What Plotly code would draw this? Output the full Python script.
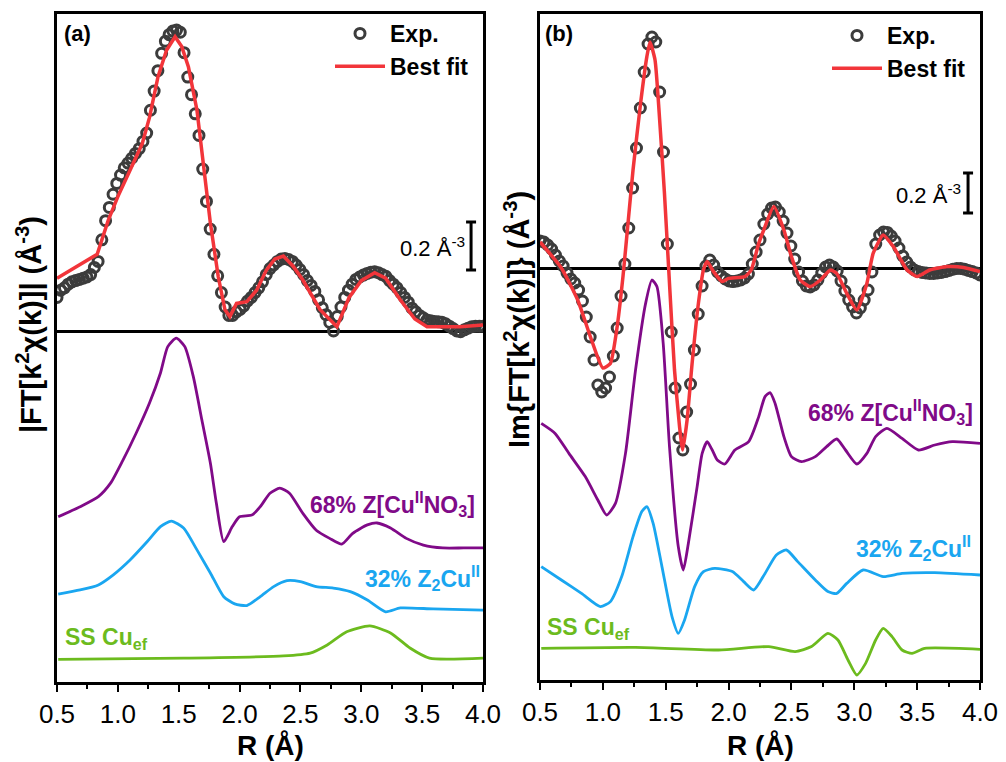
import plotly.graph_objects as go

# ---------------- data ----------------
R_exp = [round(0.5 + 0.0307 * i, 4) for i in range(115)]

exp_a = [0.14, 0.17, 0.18, 0.195, 0.205, 0.21, 0.215, 0.22, 0.225, 0.235,
         0.265, 0.29, 0.38, 0.46, 0.515, 0.57, 0.615, 0.65, 0.68, 0.70,
         0.72, 0.74, 0.76, 0.79, 0.825, 0.92, 1.00, 1.085, 1.157, 1.207,
         1.235, 1.25, 1.254, 1.245, 1.16, 1.058, 0.985, 0.905, 0.815, 0.675,
         0.54, 0.425, 0.32, 0.23, 0.16, 0.10, 0.065, 0.065, 0.08, 0.09,
         0.105, 0.125, 0.14, 0.16, 0.18, 0.205, 0.235, 0.26, 0.275, 0.29,
         0.30, 0.302, 0.298, 0.29, 0.275, 0.256, 0.235, 0.21, 0.19, 0.165,
         0.13, 0.097, 0.068, 0.036, 0.0, 0.06, 0.10, 0.14, 0.17, 0.195,
         0.215, 0.225, 0.233, 0.24, 0.245, 0.247, 0.243, 0.235, 0.228, 0.21,
         0.195, 0.18, 0.16, 0.14, 0.12, 0.095, 0.08, 0.065, 0.055, 0.046,
         0.043, 0.04, 0.039, 0.037, 0.03, 0.02, 0.01, 0.0, -0.003, 0.005,
         0.012, 0.018, 0.02, 0.02, 0.02]

exp_b = [0.135, 0.13, 0.115, 0.095, 0.065, 0.035, 0.01, -0.025, -0.055, -0.075,
         -0.11, -0.165, -0.245, -0.345, -0.46, -0.585, -0.62, -0.60, -0.545, -0.44,
         -0.30, -0.14, 0.02, 0.20, 0.40, 0.60, 0.80, 0.98, 1.12, 1.155,
         1.13, 0.88, 0.58, 0.12, -0.32, -0.60, -0.85, -0.91, -0.72, -0.58,
         -0.41, -0.23, -0.09, 0.01, 0.04, 0.015, -0.02, -0.04, -0.055, -0.065,
         -0.068, -0.065, -0.06, -0.05, -0.03, 0.02, 0.08, 0.14, 0.22, 0.27,
         0.30, 0.305, 0.28, 0.235, 0.175, 0.11, 0.045, -0.02, -0.065, -0.09,
         -0.095, -0.085, -0.06, -0.025, 0.005, 0.015, 0.005, -0.015, -0.065, -0.115,
         -0.16, -0.195, -0.225, -0.20, -0.16, -0.11, -0.02, 0.12, 0.165, 0.18,
         0.178, 0.16, 0.135, 0.10, 0.06, 0.03, 0.005, -0.01, -0.018, -0.022,
         -0.025, -0.027, -0.027, -0.025, -0.022, -0.018, -0.012, -0.006, -0.002, -0.002,
         -0.006, -0.012, -0.018, -0.025, -0.035]

# best fits
R_fit_a = [0.50, 0.83, 0.92, 1.00, 1.10, 1.20, 1.26, 1.33, 1.40, 1.47, 1.525, 1.58,
           1.65, 1.70, 1.76, 1.825, 1.88, 1.92, 1.975, 2.06, 2.14, 2.22, 2.29, 2.36,
           2.44, 2.52, 2.66, 2.80, 2.90, 3.00, 3.11, 3.20, 3.32, 3.44, 3.54, 3.81, 4.00]
fit_a = [0.22, 0.32, 0.46, 0.56, 0.67, 0.78, 0.89, 1.06, 1.17, 1.226, 1.185, 1.10,
         0.92, 0.70, 0.45, 0.226, 0.088, 0.06, 0.115, 0.122, 0.17, 0.254, 0.30, 0.3125,
         0.27, 0.2125, 0.09, 0.018, 0.14, 0.21, 0.243, 0.22, 0.13, 0.05, 0.018, 0.018, 0.025]

R_fit_b = [0.50, 0.67, 0.80, 0.91, 1.00, 1.06, 1.11, 1.16, 1.20, 1.24, 1.30, 1.35, 1.375,
           1.415, 1.45, 1.49, 1.53, 1.57, 1.61, 1.635, 1.67, 1.71, 1.76, 1.80, 1.83,
           1.88, 1.95, 2.00, 2.13, 2.18, 2.24, 2.28, 2.36, 2.44, 2.50, 2.57, 2.65, 2.73,
           2.81, 2.86, 2.94, 3.02, 3.10, 3.15, 3.23, 3.31, 3.42, 3.50, 3.60, 3.74, 3.87, 4.00]
fit_b = [0.13, 0.0, -0.16, -0.36, -0.50, -0.477, -0.31, -0.043, 0.223, 0.49, 0.823, 1.057, 1.13,
         1.04, 0.757, 0.373, -0.077, -0.51, -0.793, -0.91, -0.76, -0.477, -0.177, -0.01, 0.032,
         -0.018, -0.068, -0.052, -0.043, -0.01, 0.123, 0.19, 0.307, 0.19, 0.057, -0.06, -0.093, -0.06,
         -0.01, -0.027, -0.127, -0.21, -0.077, 0.073, 0.165, 0.107, -0.01, -0.043, -0.01, 0.007, 0.003, -0.018]

# components, panel (a) (offset for display)
R_no3_a = [0.51, 0.69, 0.84, 0.94, 1.04, 1.15, 1.26, 1.35, 1.41, 1.48, 1.55, 1.62, 1.69, 1.76,
           1.81, 1.87, 1.94, 2.00, 2.10, 2.17, 2.25, 2.33, 2.41, 2.52, 2.63, 2.74, 2.84, 2.93,
           3.05, 3.13, 3.24, 3.37, 3.51, 3.67, 3.84, 4.00]
no3_a = [-0.774, -0.732, -0.69, -0.634, -0.54, -0.426, -0.30, -0.175, -0.065, -0.03, -0.065, -0.19,
         -0.37, -0.55, -0.72, -0.878, -0.815, -0.774, -0.767, -0.732, -0.676, -0.655, -0.676, -0.76,
         -0.83, -0.864, -0.888, -0.843, -0.808, -0.80, -0.821, -0.864, -0.892, -0.904, -0.904, -0.904]

R_z2_a = [0.51, 0.69, 0.84, 0.96, 1.10, 1.24, 1.35, 1.44, 1.54, 1.65, 1.76, 1.87, 1.96, 2.06,
          2.17, 2.28, 2.39, 2.50, 2.63, 2.77, 2.91, 3.05, 3.20, 3.32, 3.59, 4.00]
z2_a = [-1.096, -1.079, -1.058, -1.017, -0.954, -0.878, -0.815, -0.792, -0.821, -0.912, -1.008,
        -1.107, -1.137, -1.144, -1.107, -1.065, -1.04, -1.044, -1.065, -1.071, -1.086, -1.121,
        -1.17, -1.154, -1.158, -1.163]

R_ss_a = [0.51, 1.54, 2.36, 2.58, 2.72, 2.88, 3.07, 3.24, 3.40, 3.56, 4.00]
ss_a = [-1.368, -1.363, -1.354, -1.342, -1.308, -1.253, -1.229, -1.258, -1.321, -1.363, -1.363]

# components, panel (b)
R_no3_b = [0.51, 0.62, 0.73, 0.86, 0.96, 1.03, 1.10, 1.18, 1.26, 1.34, 1.39, 1.43, 1.48, 1.53,
           1.60, 1.64, 1.68, 1.75, 1.79, 1.83, 1.87, 1.91, 1.97, 2.05, 2.16, 2.24, 2.29, 2.33,
           2.37, 2.44, 2.50, 2.58, 2.69, 2.78, 2.86, 2.93, 3.02, 3.10, 3.17, 3.26, 3.38, 3.51,
           3.64, 3.78, 4.00]
no3_b = [-0.777, -0.827, -0.927, -1.043, -1.16, -1.235, -1.177, -0.927, -0.51, -0.177, -0.06,
         -0.093, -0.377, -0.893, -1.393, -1.51, -1.377, -1.093, -0.927, -0.868, -0.91, -0.96,
         -0.98, -0.91, -0.868, -0.743, -0.643, -0.623, -0.677, -0.843, -0.943, -0.968, -0.943,
         -0.893, -0.855, -0.91, -0.98, -0.927, -0.843, -0.802, -0.852, -0.91, -0.885, -0.868, -0.877]

R_z2_b = [0.51, 0.67, 0.83, 0.98, 1.06, 1.15, 1.24, 1.31, 1.35, 1.40, 1.47, 1.55, 1.60, 1.65,
          1.73, 1.80, 1.89, 2.03, 2.12, 2.20, 2.29, 2.38, 2.46, 2.55, 2.69, 2.79, 2.86, 2.94,
          3.07, 3.23, 3.38, 3.64, 4.00]
z2_b = [-1.493, -1.56, -1.627, -1.693, -1.668, -1.543, -1.343, -1.218, -1.193, -1.277, -1.493,
        -1.743, -1.827, -1.76, -1.593, -1.518, -1.502, -1.518, -1.568, -1.61, -1.527, -1.435,
        -1.41, -1.468, -1.56, -1.618, -1.627, -1.577, -1.51, -1.543, -1.527, -1.523, -1.535]

R_ss_b = [0.51, 1.26, 1.92, 2.32, 2.53, 2.66, 2.79, 2.87, 2.95, 3.02, 3.09, 3.17, 3.23, 3.30,
          3.38, 3.46, 3.56, 4.00]
ss_b = [-1.902, -1.897, -1.91, -1.893, -1.918, -1.893, -1.827, -1.86, -1.96, -2.035, -1.977,
        -1.86, -1.802, -1.843, -1.91, -1.927, -1.902, -1.907]

x_ticks = [0.5, 1.0, 1.5, 2.0, 2.5, 3.0, 3.5, 4.0]
x_ticktext = ["0.5", "1.0", "1.5", "2.0", "2.5", "3.0", "3.5", "4.0"]

SCALE_BAR = 0.2  # Å^-3

# ---------------- styles ----------------
FONT = "Liberation Sans, Arial, sans-serif"
C_PURPLE = "#800A88"
C_BLUE = "#1AA6F0"
C_GREEN = "#6CBB1E"
C_RED = "#F2353A"
C_EXP = "#3C3C3C"

W, H = 1006, 762
def px_x(p):
    return p / W
def px_y(p):
    return 1 - p / H

fig = go.Figure()

def add_panel(xa, ya, comps, R_fit, fit, exp, legend):
    for (rx, ry, col) in comps:
        fig.add_trace(go.Scatter(x=rx, y=ry, mode="lines", xaxis=xa, yaxis=ya,
                                 line=dict(color=col, width=2.8, shape="spline", smoothing=0.6),
                                 showlegend=False, hoverinfo="skip"))
    fig.add_trace(go.Scatter(x=R_exp, y=exp, mode="markers", name="<b>Exp.</b>",
                             xaxis=xa, yaxis=ya, legend=legend,
                             marker=dict(symbol="circle-open", size=10,
                                         color=C_EXP, line=dict(width=3, color=C_EXP))))
    fig.add_trace(go.Scatter(x=R_fit, y=fit, mode="lines", name="<b>Best fit</b>",
                             xaxis=xa, yaxis=ya, legend=legend,
                             line=dict(color=C_RED, width=3.5,
                                       shape="spline" if xa == "x2" else "linear",
                                       smoothing=0.5)))

add_panel("x", "y", [(R_no3_a, no3_a, C_PURPLE), (R_z2_a, z2_a, C_BLUE), (R_ss_a, ss_a, C_GREEN)],
          R_fit_a, fit_a, exp_a, "legend")
add_panel("x2", "y2", [(R_no3_b, no3_b, C_PURPLE), (R_z2_b, z2_b, C_BLUE), (R_ss_b, ss_b, C_GREEN)],
          R_fit_b, fit_b, exp_b, "legend2")

# scale bars (0.2 Å^-3) drawn in data units with error bars
for xa, ya, rx, yc in [("x", "y", 3.902, 0.354), ("x2", "y2", 3.905, 0.375)]:
    fig.add_trace(go.Scatter(x=[rx], y=[yc], mode="markers", xaxis=xa, yaxis=ya,
                             marker=dict(size=1, color="rgba(0,0,0,0)"),
                             error_y=dict(type="data", array=[SCALE_BAR / 2], symmetric=True,
                                          color="black", thickness=3, width=5),
                             showlegend=False, hoverinfo="skip"))

axis_x = dict(range=[0.5, 4.0], showgrid=False, zeroline=False, showline=True, mirror=True,
              linecolor="black", linewidth=2.5, ticks="outside", ticklen=7, tickwidth=2,
              tickcolor="black", tickvals=x_ticks, ticktext=x_ticktext, automargin=False,
              tickfont=dict(family=FONT, size=26, color="black"),
              minor=dict(ticks="outside", ticklen=4, tickwidth=2, tickcolor="black",
                         tick0=0.75, dtick=0.5))
axis_y = dict(showgrid=False, showline=True, mirror=True, linecolor="black", linewidth=2.5,
              ticks="", showticklabels=False, zeroline=True, zerolinecolor="black",
              zerolinewidth=2.5, automargin=False)

fig.update_layout(
    width=W, height=H, margin=dict(l=0, r=0, t=0, b=0, autoexpand=False),
    paper_bgcolor="white", plot_bgcolor="white",
    xaxis=dict(axis_x, domain=[px_x(57), px_x(483)], anchor="y"),
    yaxis=dict(axis_y, domain=[px_y(682), px_y(14)], range=[-1.4625, 1.321], anchor="x"),
    xaxis2=dict(axis_x, domain=[px_x(540), px_x(980)], anchor="y2"),
    yaxis2=dict(axis_y, domain=[px_y(680), px_y(14)], range=[-2.06, 1.27], anchor="x2"),
    legend=dict(x=px_x(330), y=px_y(12), xanchor="left", yanchor="top",
                bgcolor="rgba(0,0,0,0)", font=dict(family=FONT, size=23, color="black"),
                itemwidth=50, tracegroupgap=0),
    legend2=dict(x=px_x(827), y=px_y(14), xanchor="left", yanchor="top",
                 bgcolor="rgba(0,0,0,0)", font=dict(family=FONT, size=23, color="black"),
                 itemwidth=50, tracegroupgap=0),
)

ann = []
def a(text, x, y, xref, yref, size, color="black", xanchor="center", yanchor="middle", angle=0):
    ann.append(dict(text=text, x=x, y=y, xref=xref, yref=yref, showarrow=False,
                    font=dict(family=FONT, size=size, color=color),
                    xanchor=xanchor, yanchor=yanchor, textangle=angle))

# axis titles
a("<b>|FT[k<sup>2</sup>χ(k)]| (Å<sup>-3</sup>)</b>", px_x(29), px_y(325), "paper", "paper", 29, angle=-90)
a("<b>Im{FT[k<sup>2</sup>χ(k)]} (Å<sup>-3</sup>)</b>", px_x(517), px_y(320), "paper", "paper", 29, angle=-90)
a("<b>R (Å)</b>", px_x(270), px_y(745), "paper", "paper", 28)
a("<b>R (Å)</b>", px_x(760), px_y(745), "paper", "paper", 28)
# panel labels
a("<b>(a)</b>", px_x(62), px_y(34), "paper", "paper", 22, xanchor="left")
a("<b>(b)</b>", px_x(543), px_y(34), "paper", "paper", 22, xanchor="left")
# scale bar labels
a("0.2 Å<sup>-3</sup>", 3.87, 0.35, "x", "y", 22, xanchor="right")
a("0.2 Å<sup>-3</sup>", 3.865, 0.37, "x2", "y2", 22, xanchor="right")
# component labels
a("<b>68% Z[Cu<sup>II</sup>NO<sub>3</sub>]</b>", 3.95, -0.72, "x", "y", 23, C_PURPLE, xanchor="right")
a("<b>32% Z<sub>2</sub>Cu<sup>II</sup></b>", 3.99, -1.03, "x", "y", 23, C_BLUE, xanchor="right")
a("<b>SS Cu<sub>ef</sub></b>", 0.55, -1.28, "x", "y", 23, C_GREEN, xanchor="left")
a("<b>68% Z[Cu<sup>II</sup>NO<sub>3</sub>]</b>", 3.96, -0.72, "x2", "y2", 23, C_PURPLE, xanchor="right")
a("<b>32% Z<sub>2</sub>Cu<sup>II</sup></b>", 3.945, -1.40, "x2", "y2", 23, C_BLUE, xanchor="right")
a("<b>SS Cu<sub>ef</sub></b>", 0.54, -1.80, "x2", "y2", 23, C_GREEN, xanchor="left")
fig.update_layout(annotations=ann)

fig.write_html("out.html")
